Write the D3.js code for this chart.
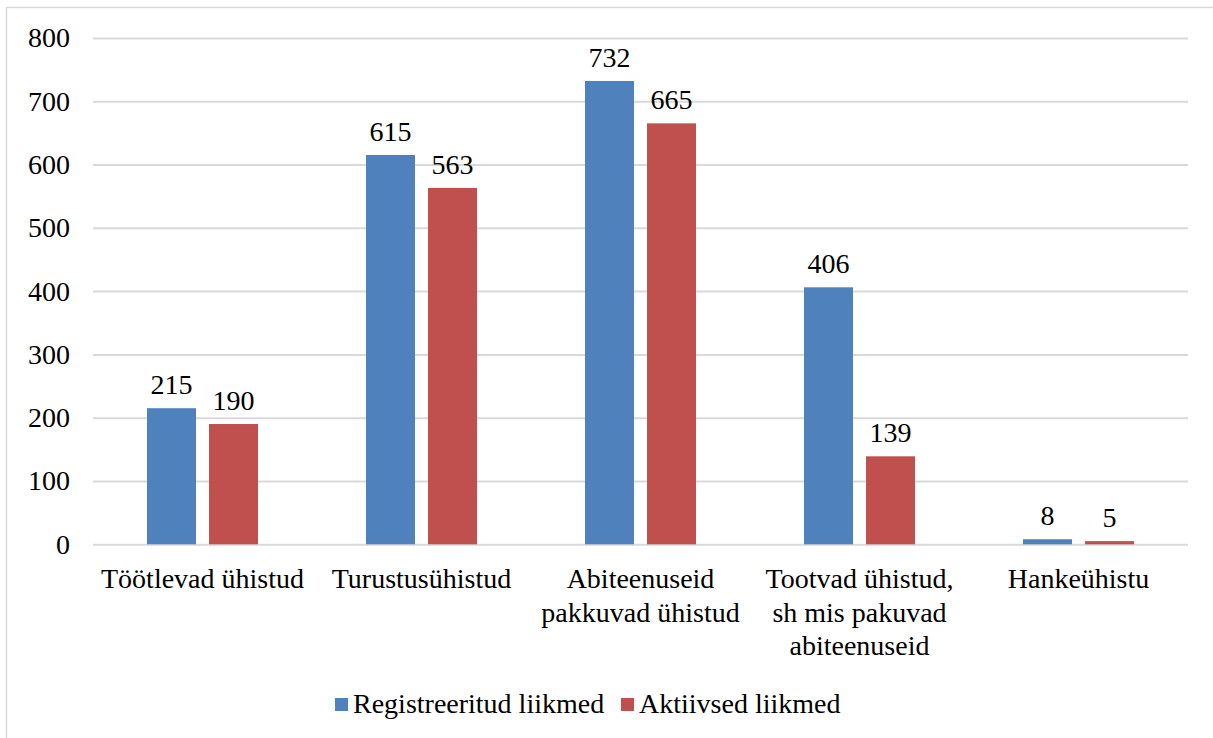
<!DOCTYPE html>
<html><head><meta charset="utf-8">
<script src="https://cdn.jsdelivr.net/npm/d3@7"></script>
</head><body style="margin:0;background:#fff"><svg id="c" width="1213" height="738"></svg>
<script>
const categories = [["Töötlevad ühistud"],["Turustusühistud"],["Abiteenuseid","pakkuvad ühistud"],["Tootvad ühistud,","sh mis pakuvad","abiteenuseid"],["Hankeühistu"]];
const seriesNames = ["Registreeritud liikmed","Aktiivsed liikmed"];
const registered = [215,615,732,406,8];
const active = [190,563,665,139,5];
const yTicks = [0,100,200,300,400,500,600,700,800];
const colors = ["#4F81BD","#C0504D"];

const FONT = "Times New Roman", FS = 28;
const svg = d3.select("#c");
svg.append("rect").attr("x",6.5).attr("y",7.5).attr("width",1220).attr("height",740).attr("fill","none").attr("stroke","#d9d9d9").attr("stroke-width",1.5);

const L=93,R=1188,T=37.9,B=544.3;
const y = d3.scaleLinear().domain([0,800]).range([B,T]);
const x0 = d3.scaleBand().domain(d3.range(categories.length)).range([L,R]);
const x1 = d3.scaleBand().domain([0,1]).range([0,111]).paddingInner(0.21);
const off = (x0.bandwidth()-111)/2;

function txt(sel){ return sel.attr("font-family",FONT).attr("font-size",FS).attr("fill","#000"); }

const yAxis = d3.axisLeft(y).tickValues(yTicks).tickSize(-(R-L)).tickPadding(23);
const gy = svg.append("g").attr("transform",`translate(${L},0)`).call(yAxis);
gy.attr("font-family",FONT).attr("font-size",FS);
gy.select(".domain").remove();
gy.selectAll(".tick line").attr("stroke","#d9d9d9").attr("stroke-width",2);
txt(gy.selectAll(".tick text"));

const data = [registered, active];
const g = svg.append("g");
categories.forEach((c,i)=>{
  [0,1].forEach(s=>{
    const v=data[s][i];
    const bx = x0(i)+off+x1(s);
    g.append("rect").attr("x",bx).attr("y",y(v)).attr("width",x1.bandwidth()).attr("height",y(0)-y(v)).attr("fill",colors[s]);
    txt(g.append("text").attr("x",bx+x1.bandwidth()/2).attr("y",y(v)-14).attr("text-anchor","middle")).text(v);
  });
  const t = txt(g.append("text").attr("text-anchor","middle"));
  c.forEach((line,k)=>t.append("tspan").attr("x",x0(i)+x0.bandwidth()/2).attr("y",588+k*33.5).text(line));
});

// legend
const lg = svg.append("g");
const lx=[335,621];
seriesNames.forEach((n,s)=>{
  lg.append("rect").attr("x",lx[s]).attr("y",698).attr("width",13).attr("height",13).attr("fill",colors[s]);
  txt(lg.append("text").attr("x",lx[s]+18).attr("y",713)).text(n);
});
</script></body></html>
